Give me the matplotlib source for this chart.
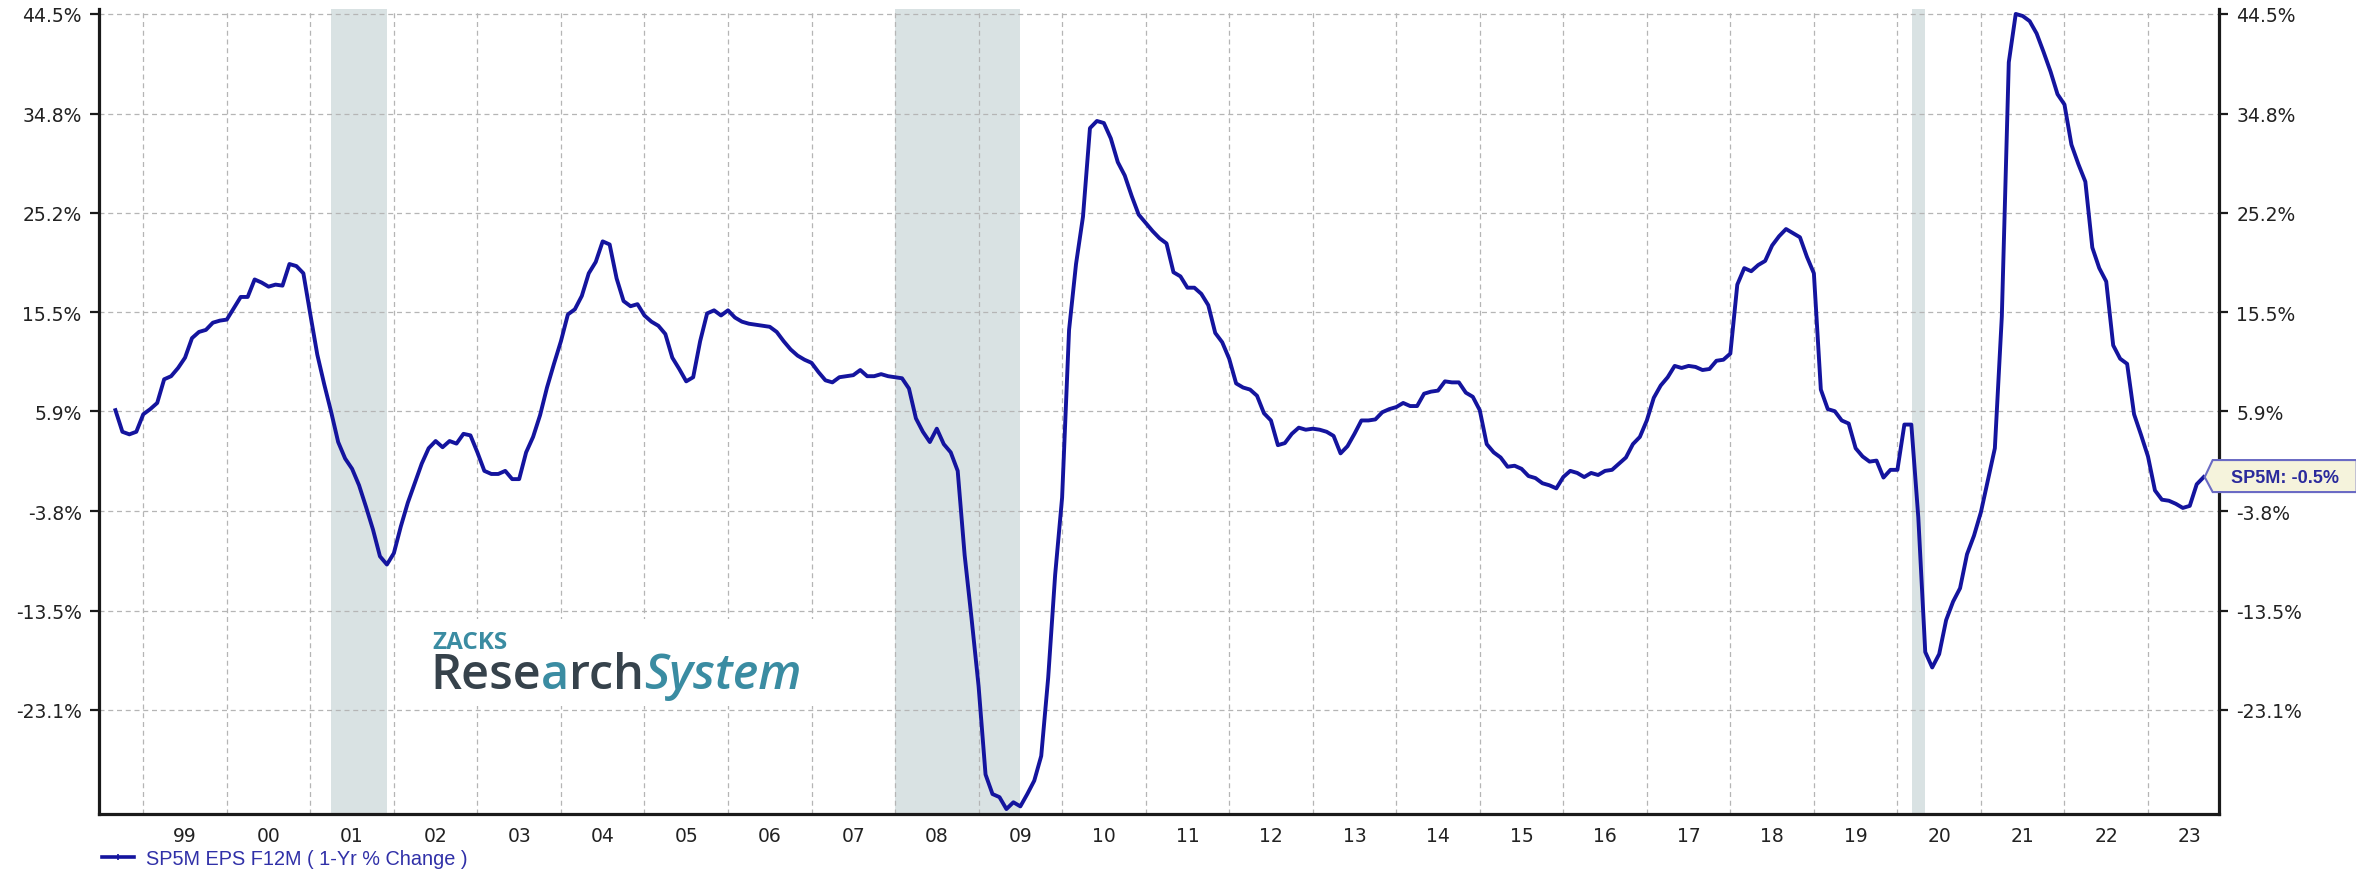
import numpy as np
import matplotlib.pyplot as plt
from matplotlib.lines import Line2D
from matplotlib.patches import Polygon, Rectangle
from matplotlib.transforms import IdentityTransform

# S&P 500 forward 12M EPS, 1-yr % change, monthly from Sep 1998
eps_1998_2002 = [6.0, 3.9, 3.65, 3.9,
                 5.6, 6.1, 6.7, 9.0, 9.3, 10.1, 11.1, 13.0, 13.6, 13.8, 14.5, 14.7,
                 14.8, 15.9, 17.0, 17.0, 18.7, 18.4, 18.0, 18.2, 18.1, 20.2, 20.0, 19.3,
                 15.3, 11.4, 8.5, 5.8, 2.9, 1.3, 0.3, -1.3, -3.4, -5.6, -8.2, -9.0,
                 -7.9, -5.3, -3.0, -1.1, 0.8, 2.3, 3.0, 2.4, 3.0, 2.75, 3.7, 3.55]
eps_2003_2007 = [1.9, 0.1, -0.2, -0.2, 0.1, -0.7, -0.7, 1.9, 3.4, 5.5, 8.2, 10.5,
                 12.7, 15.3, 15.8, 17.1, 19.3, 20.4, 22.4, 22.1, 18.8, 16.6, 16.1, 16.3,
                 15.2, 14.6, 14.2, 13.4, 11.1, 10.0, 8.8, 9.2, 12.7, 15.4, 15.7, 15.2,
                 15.7, 15.0, 14.6, 14.4, 14.3, 14.2, 14.1, 13.6, 12.7, 11.9, 11.3, 10.9,
                 10.6, 9.7, 8.9, 8.7, 9.2, 9.3, 9.4, 9.9, 9.3, 9.3, 9.5, 9.3]
eps_2008_2012 = [9.2, 9.1, 8.1, 5.2, 3.9, 2.9, 4.2, 2.7, 1.9, 0.1, -8.1, -14.3,
                 -20.8, -29.4, -31.3, -31.6, -32.76, -32.1, -32.5, -31.3, -30.0, -27.6, -20.0, -10.0,
                 -2.5, 13.8, 20.2, 24.8, 33.4, 34.1, 33.9, 32.4, 30.1, 28.8, 26.8, 25.0,
                 24.2, 23.4, 22.7, 22.2, 19.4, 19.0, 17.9, 17.9, 17.3, 16.2, 13.5, 12.6,
                 11.0, 8.6, 8.2, 8.0, 7.4, 5.7, 5.0, 2.6, 2.8, 3.7, 4.3, 4.1]
eps_2013_2017 = [4.2, 4.1, 3.9, 3.5, 1.8, 2.5, 3.7, 5.0, 5.0, 5.1, 5.8, 6.1,
                 6.3, 6.7, 6.4, 6.4, 7.6, 7.8, 7.9, 8.8, 8.7, 8.7, 7.7, 7.3,
                 6.0, 2.7, 1.9, 1.4, 0.5, 0.6, 0.3, -0.4, -0.6, -1.1, -1.3, -1.6,
                 -0.5, 0.1, -0.1, -0.5, -0.1, -0.3, 0.1, 0.2, 0.8, 1.4, 2.7, 3.4,
                 5.0, 7.2, 8.4, 9.2, 10.3, 10.1, 10.3, 10.2, 9.9, 10.0, 10.8, 10.9]
eps_2018_2023 = [11.5, 18.2, 19.8, 19.5, 20.1, 20.5, 22.0, 22.9, 23.6, 23.2, 22.8, 20.9,
                 19.3, 8.0, 6.1, 5.9, 5.0, 4.7, 2.3, 1.5, 1.0, 1.1, -0.55, 0.2,
                 0.2, 4.6, 4.6, -4.4, -17.5, -19.0, -17.7, -14.4, -12.6, -11.3, -8.0, -6.2,
                 -3.9, -0.8, 2.3, 15.1, 39.8, 44.5, 44.3, 43.8, 42.6, 40.8, 38.9, 36.7,
                 35.7, 31.8, 29.9, 28.2, 21.8, 19.8, 18.5, 12.3, 11.0, 10.5, 5.6, 3.6,
                 1.5, -1.8, -2.7, -2.8, -3.1, -3.5, -3.3, -1.2, -0.5]

start_year = 1998 + 8 / 12.0

ytick_vals = [44.5, 34.8, 25.2, 15.5, 5.9, -3.8, -13.5, -23.1]
label_years = list(range(1999, 2024))
year_labels = ["%02d" % (y % 100) for y in label_years]

# NBER recessions (fractional years)
recessions = [(2001.25, 2001.92), (2008.0, 2009.5), (2020.17, 2020.33)]

series_name = "SP5M EPS F12M ( 1-Yr % Change )"
ticker = "SP5M"

eps = np.array(eps_1998_2002 + eps_2003_2007 + eps_2008_2012 + eps_2013_2017 + eps_2018_2023)
x = start_year + np.arange(len(eps)) / 12.0

W, H = 2356, 879
line_color = "#14149e"
teal = "#3a8ca2"

fig = plt.figure(figsize=(W / 100, H / 100), dpi=100)
ax = fig.add_axes([99 / W, 1 - 815 / H, (2219 - 99) / W, (815 - 10) / H])

for a, b in recessions:
    ax.axvspan(a, b, color="#d9e2e3", lw=0, zorder=0)

ax.plot(x, eps, color=line_color, lw=2.8, solid_joinstyle="round", zorder=3)

ax.set_xlim(1998.47, 2023.85)
ax.set_ylim(-33.24, 44.98)

ax.set_yticks(ytick_vals)
ax.set_yticklabels(["%.1f%%" % v for v in ytick_vals])
ax.set_xticks(label_years)
ax.set_xticks([y + 0.5 for y in label_years], minor=True)
ax.set_xticklabels(year_labels, minor=True)

ax.tick_params(axis="x", which="both", length=0)
ax.tick_params(axis="x", which="major", labelbottom=False)
ax.tick_params(axis="x", which="minor", pad=9, labelsize=13.5, labelcolor="#222222")
ax.tick_params(axis="y", direction="out", length=6.5, width=1.6, color="#1a1a1a",
               left=True, right=True, labelleft=True, labelright=True,
               labelsize=13.5, labelcolor="#222222", pad=6)

ax.grid(True, which="major", color="#b5b5b5", linestyle=(0, (4, 3)), linewidth=0.9)

ax.spines["top"].set_visible(False)
for side in ("left", "right", "bottom"):
    ax.spines[side].set_linewidth(2.3)
    ax.spines[side].set_color("#1a1a1a")

# legend under the axis
handle = Line2D([], [], color=line_color, lw=2.6, marker="+", markersize=4, markeredgewidth=1.2)
ax.legend([handle], [series_name], loc="upper left", bbox_to_anchor=(102 / W, 1 - 850 / H),
          bbox_transform=fig.transFigure, frameon=False, borderpad=0, borderaxespad=0,
          handlelength=1.6, handletextpad=0.6, labelcolor="#3030a8",
          prop={"family": "Liberation Sans", "size": 14.3})

# logo block
fig_px = lambda px, py: (px / W, 1 - py / H)
ax.add_patch(Rectangle(fig_px(420, 707), 398 / W, 87 / H, transform=fig.transFigure,
                       facecolor="white", edgecolor="none", zorder=2, clip_on=False))
fig.text(*fig_px(432, 649), "ZACKS", color=teal, fontsize=17.5, fontweight="bold",
         family="Open Sans", va="baseline", zorder=4)

renderer = fig.canvas.get_renderer()
pos = fig_px(430, 689)
pieces = [("Rese", "#36424b", "normal"), ("a", teal, "normal"),
          ("rch", "#36424b", "normal"), ("System", teal, "italic")]
for txt, col, style in pieces:
    t = fig.text(pos[0], pos[1], txt, color=col, fontsize=35, family="Open Sans",
                 fontweight="semibold", style=style, va="baseline", zorder=4)
    x1 = t.get_window_extent(renderer).x1
    pos = (fig.transFigure.inverted().transform((x1, 0))[0], pos[1])

# value tag at the last point
tip = ax.transData.transform((x[-1], eps[-1]))
tx, ty = tip[0] + 1, tip[1]
tag = Polygon([(tx, ty), (tx + 8, ty + 17), (tx + 152, ty + 17), (tx + 152, ty - 15), (tx + 8, ty - 15)],
              closed=True, transform=IdentityTransform(), facecolor="#f5f3dc",
              edgecolor="#6a6ac4", lw=1.5, zorder=6)
fig.add_artist(tag)
fig.text(tx + 80, ty, "%s: %.1f%%" % (ticker, eps[-1]), transform=IdentityTransform(),
         ha="center", va="center", color="#2a2a9c", fontsize=13, fontweight="bold",
         family="Liberation Sans", zorder=7)

fig.savefig("out.png", dpi=100)
